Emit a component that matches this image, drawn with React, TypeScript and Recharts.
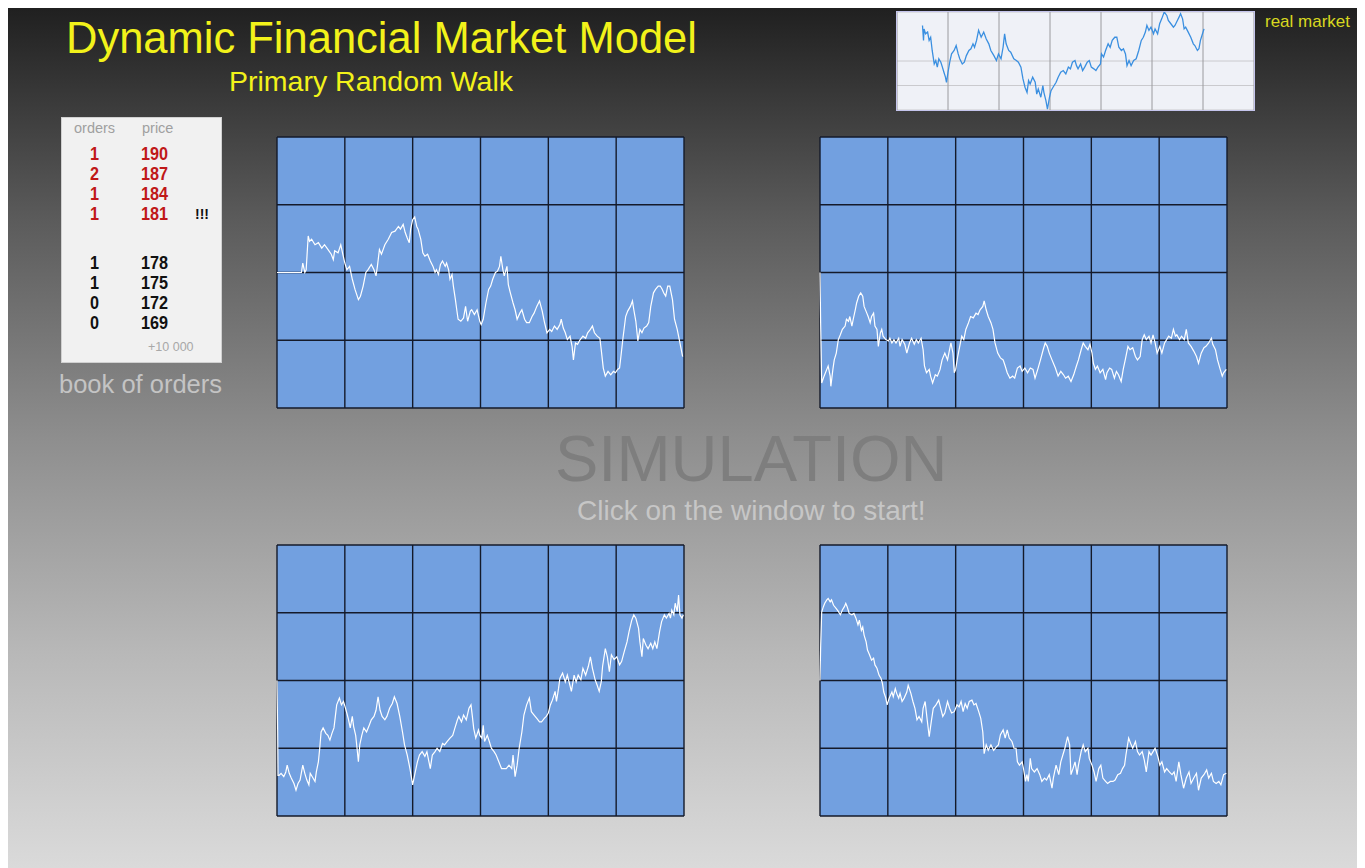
import React from 'react';
import { LineChart, Line, XAxis, YAxis, CartesianGrid } from 'recharts';

// time steps / price levels (grid: 6 x 100 wide, 4 x 100 high)
const tlT = [0, 36, 38, 41, 43, 46, 48, 51, 56, 61, 66, 70, 75, 80, 83, 85, 90, 94, 97, 100, 103, 107, 111, 115, 120, 123, 127, 131, 134, 139, 143, 146, 148, 151, 154, 159, 164, 169, 174, 179, 182, 186, 189, 192, 195, 197, 200, 203, 206, 208, 212, 215, 218, 222, 226, 230, 233, 235, 238, 241, 244, 248, 250, 253, 255, 258, 260, 263, 265, 267, 271, 275, 278, 281, 285, 287, 291, 295, 299, 301, 304, 308, 312, 315, 318, 322, 325, 328, 330, 333, 335, 339, 341, 344, 348, 351, 354, 358, 361, 365, 368, 372, 376, 379, 383, 387, 391, 394, 398, 402, 405, 409, 413, 417, 419, 422, 425, 428, 432, 435, 437, 440, 443, 447, 451, 455, 458, 462, 465, 468, 472, 476, 478, 481, 484, 488, 492, 496, 499, 502, 505, 507, 510, 514, 517, 521, 524, 526, 529, 532, 535, 538, 541, 545, 548, 551, 555, 558, 562, 565, 568, 570, 573, 576, 579, 583, 586, 590, 594, 598];
const tlV = [200, 200, 214, 200, 204, 254, 246, 249, 241, 244, 236, 241, 234, 227, 219, 232, 229, 241, 227, 214, 204, 209, 190, 175, 160, 165, 180, 200, 204, 212, 204, 195, 209, 234, 227, 241, 249, 259, 261, 268, 264, 271, 259, 251, 244, 264, 278, 282, 268, 264, 249, 229, 224, 227, 217, 209, 200, 204, 197, 212, 217, 209, 214, 204, 190, 197, 180, 160, 145, 131, 128, 133, 150, 128, 143, 145, 138, 145, 128, 123, 131, 155, 175, 180, 190, 200, 202, 209, 224, 204, 195, 209, 182, 170, 155, 145, 131, 140, 145, 131, 126, 126, 135, 140, 150, 158, 143, 128, 111, 116, 113, 121, 116, 123, 131, 118, 111, 101, 106, 91, 71, 96, 94, 101, 106, 103, 111, 116, 121, 111, 106, 103, 86, 59, 47, 54, 49, 54, 52, 57, 59, 76, 103, 135, 143, 150, 158, 145, 128, 99, 116, 111, 118, 121, 126, 150, 170, 175, 180, 180, 175, 170, 165, 180, 180, 160, 131, 116, 96, 76];

const trT = [0, 1, 2.5, 6, 10, 12, 15, 16, 19, 21, 24, 27, 30, 33, 37, 39, 42, 44, 47, 49, 52, 54, 57, 60, 63, 65, 69, 71, 74, 76, 79, 81, 84, 86, 89, 91, 93, 97, 101, 103, 106, 109, 112, 116, 118, 121, 125, 128, 132, 135, 139, 142, 145, 149, 152, 154, 157, 161, 163, 166, 170, 173, 177, 180, 184, 188, 191, 193, 196, 198, 200, 203, 207, 209, 212, 215, 219, 222, 226, 230, 233, 236, 240, 242, 245, 248, 252, 255, 258, 262, 266, 270, 273, 276, 280, 284, 287, 291, 295, 298, 302, 306, 310, 314, 317, 321, 325, 329, 332, 335, 338, 342, 347, 351, 355, 359, 362, 366, 370, 374, 378, 381, 385, 388, 391, 395, 398, 401, 403, 406, 409, 413, 417, 421, 423, 427, 430, 434, 437, 440, 444, 447, 450, 454, 457, 461, 465, 468, 472, 475, 478, 481, 485, 488, 491, 494, 497, 501, 504, 508, 511, 514, 518, 521, 524, 526, 530, 533, 537, 540, 543, 547, 551, 555, 558, 562, 566, 569, 573, 577, 579, 583, 586, 590, 593, 595, 599];
const trV = [200, 121, 37, 47, 57, 62, 47, 32, 57, 71, 81, 101, 108, 116, 121, 131, 128, 135, 121, 131, 145, 155, 165, 170, 165, 150, 140, 135, 126, 135, 140, 121, 116, 91, 111, 116, 106, 101, 99, 103, 96, 101, 96, 103, 91, 101, 94, 81, 96, 103, 94, 101, 96, 103, 86, 62, 52, 57, 47, 37, 49, 47, 57, 71, 81, 71, 86, 96, 81, 52, 57, 76, 96, 106, 101, 116, 126, 135, 133, 140, 138, 145, 150, 158, 145, 135, 126, 116, 96, 81, 74, 71, 62, 52, 44, 47, 44, 59, 62, 54, 59, 52, 59, 57, 44, 57, 71, 86, 96, 91, 81, 71, 59, 47, 54, 49, 44, 47, 39, 49, 62, 71, 86, 96, 91, 86, 94, 81, 66, 57, 62, 52, 57, 42, 52, 59, 57, 44, 54, 49, 39, 57, 71, 91, 86, 89, 76, 71, 76, 101, 108, 101, 106, 96, 108, 96, 81, 91, 81, 96, 101, 106, 103, 116, 106, 108, 101, 106, 101, 116, 96, 91, 84, 76, 66, 81, 89, 91, 96, 103, 94, 86, 71, 57, 47, 52, 57];

const blT = [0, 1, 1.5, 3, 6, 10, 13, 15, 18, 21, 25, 28, 31, 34, 38, 41, 44, 47, 49, 52, 56, 58, 61, 63, 65, 68, 72, 75, 78, 81, 84, 86, 88, 92, 95, 98, 101, 105, 108, 111, 113, 116, 118, 120, 122, 125, 128, 132, 136, 139, 143, 146, 149, 152, 155, 159, 162, 166, 170, 173, 177, 181, 185, 188, 192, 196, 200, 203, 207, 210, 214, 218, 221, 224, 226, 229, 233, 236, 240, 244, 247, 251, 255, 259, 262, 266, 268, 272, 275, 279, 283, 286, 288, 290, 293, 297, 299, 302, 304, 306, 310, 313, 316, 320, 323, 327, 331, 334, 338, 342, 346, 348, 351, 354, 357, 361, 364, 368, 372, 375, 379, 383, 387, 390, 394, 397, 400, 403, 406, 410, 412, 415, 417, 421, 425, 428, 431, 434, 438, 441, 444, 448, 451, 455, 459, 462, 465, 469, 472, 475, 478, 480, 484, 487, 490, 493, 497, 501, 505, 508, 512, 516, 519, 523, 526, 529, 533, 535, 538, 540, 544, 547, 551, 554, 557, 560, 564, 567, 571, 574, 578, 580, 582, 585, 587, 590, 592, 594, 597, 599];
const blV = [200, 124, 60, 60, 63, 58, 65, 75, 63, 56, 48, 38, 48, 53, 75, 63, 53, 46, 63, 58, 51, 65, 80, 100, 124, 130, 122, 119, 112, 122, 130, 147, 164, 174, 164, 169, 159, 144, 130, 147, 132, 119, 100, 80, 105, 119, 130, 124, 134, 142, 147, 156, 176, 156, 147, 142, 147, 159, 166, 176, 166, 147, 124, 105, 90, 70, 46, 61, 80, 90, 95, 88, 95, 80, 70, 90, 95, 100, 95, 107, 105, 110, 115, 119, 129, 142, 147, 139, 149, 142, 159, 164, 147, 129, 115, 127, 119, 115, 134, 110, 119, 110, 100, 95, 90, 80, 70, 70, 70, 75, 70, 90, 58, 75, 100, 124, 149, 164, 174, 154, 149, 144, 139, 139, 144, 147, 152, 164, 171, 184, 169, 188, 203, 211, 198, 208, 196, 184, 208, 198, 208, 201, 218, 208, 221, 235, 218, 201, 193, 184, 198, 221, 247, 235, 213, 238, 231, 235, 223, 228, 243, 257, 272, 289, 297, 292, 277, 257, 235, 262, 252, 247, 255, 247, 257, 247, 272, 287, 297, 292, 299, 292, 304, 297, 314, 302, 326, 297, 292, 297];

const brT = [0, 1, 2.5, 5, 7, 10, 12, 15, 17, 20, 24, 27, 30, 33, 36, 38, 40, 43, 47, 50, 53, 56, 58, 61, 63, 65, 68, 70, 73, 76, 79, 81, 84, 87, 90, 92, 94, 97, 99, 102, 106, 108, 111, 113, 116, 118, 121, 124, 128, 130, 134, 137, 140, 143, 146, 150, 152, 155, 158, 161, 164, 167, 171, 175, 178, 181, 184, 188, 191, 194, 198, 202, 205, 208, 211, 214, 217, 220, 224, 227, 230, 234, 237, 240, 242, 245, 248, 252, 256, 260, 263, 266, 270, 273, 276, 279, 283, 286, 289, 291, 294, 298, 300, 303, 305, 307, 310, 312, 316, 320, 324, 327, 331, 334, 338, 342, 344, 348, 352, 355, 358, 361, 365, 368, 370, 373, 376, 379, 381, 385, 388, 391, 395, 397, 401, 404, 407, 411, 414, 417, 421, 424, 428, 432, 435, 439, 443, 446, 449, 451, 455, 458, 461, 465, 468, 471, 475, 478, 481, 485, 488, 491, 494, 498, 501, 504, 508, 511, 515, 519, 522, 525, 529, 532, 536, 540, 544, 547, 551, 555, 558, 562, 566, 570, 573, 577, 580, 584, 588, 591, 595, 599];
const brV = [200, 252, 301, 309, 314, 319, 321, 316, 319, 311, 306, 302, 297, 304, 309, 314, 309, 299, 297, 299, 292, 282, 289, 274, 279, 267, 257, 245, 238, 230, 233, 223, 218, 208, 203, 196, 183, 174, 164, 174, 183, 176, 188, 181, 174, 181, 169, 174, 183, 193, 181, 169, 159, 142, 147, 139, 159, 169, 142, 117, 139, 159, 164, 171, 159, 147, 152, 169, 159, 152, 154, 164, 161, 169, 154, 166, 159, 169, 171, 164, 166, 154, 144, 124, 92, 105, 97, 105, 97, 102, 105, 120, 127, 115, 127, 115, 110, 100, 100, 80, 75, 80, 70, 51, 61, 51, 85, 70, 65, 70, 61, 51, 56, 53, 61, 41, 56, 75, 61, 80, 90, 100, 117, 105, 61, 70, 80, 61, 75, 95, 105, 95, 100, 85, 75, 65, 51, 70, 75, 56, 51, 48, 51, 51, 53, 61, 63, 70, 75, 90, 115, 107, 100, 110, 95, 90, 95, 83, 65, 95, 90, 95, 100, 88, 75, 80, 65, 70, 65, 61, 65, 51, 80, 61, 41, 56, 65, 48, 56, 63, 38, 56, 61, 68, 56, 63, 51, 48, 51, 46, 61, 63];

// "real market" thumbnail (7 x 100 wide, 4 x 100 high)
const rmT = [50, 52, 53, 56, 60, 63, 66, 69, 73, 76, 79, 82, 86, 89, 92, 95, 97, 100, 104, 107, 112, 116, 120, 123, 128, 132, 136, 141, 145, 149, 152, 156, 160, 165, 170, 175, 180, 184, 190, 195, 199, 204, 208, 211, 214, 219, 223, 229, 234, 238, 243, 247, 251, 255, 258, 261, 266, 271, 274, 277, 282, 286, 288, 292, 295, 299, 302, 306, 312, 316, 321, 326, 331, 336, 340, 344, 349, 352, 355, 360, 364, 368, 373, 377, 381, 386, 390, 394, 399, 401, 405, 409, 414, 418, 422, 427, 431, 435, 440, 444, 448, 451, 455, 459, 464, 469, 474, 479, 483, 487, 490, 494, 498, 503, 506, 511, 515, 519, 524, 529, 532, 537, 542, 545, 550, 553, 556, 560, 563, 566, 571, 576, 581, 584, 589, 592, 595, 599, 602];
const rmV = [345, 284, 331, 311, 318, 284, 297, 243, 188, 202, 175, 209, 195, 175, 154, 134, 113, 154, 202, 229, 243, 263, 229, 209, 188, 195, 222, 243, 250, 270, 256, 284, 325, 297, 318, 290, 270, 243, 222, 202, 229, 209, 256, 311, 270, 243, 236, 209, 202, 195, 175, 127, 93, 72, 120, 106, 134, 113, 65, 86, 52, 100, 72, 38, 4, 52, 79, 93, 113, 134, 154, 161, 147, 175, 168, 195, 202, 181, 168, 188, 161, 175, 195, 202, 175, 168, 161, 175, 188, 229, 216, 243, 270, 256, 284, 297, 297, 256, 243, 250, 229, 181, 202, 181, 202, 209, 243, 284, 297, 318, 345, 325, 338, 311, 331, 311, 352, 372, 400, 386, 366, 352, 338, 345, 366, 379, 393, 372, 331, 338, 318, 297, 270, 263, 243, 250, 284, 311, 331];

const panelTicksX = [0, 100, 200, 300, 400, 500, 600];
const panelTicksY = [0, 100, 200, 300, 400];
const thumbTicksX = [0, 100, 200, 300, 400, 500, 600, 700];

const askOrders = ['1', '2', '1', '1'];
const askPrices = ['190', '187', '184', '181'];
const bidOrders = ['1', '1', '0', '0'];
const bidPrices = ['178', '175', '172', '169'];

const SANS = '"Liberation Sans", Arial, sans-serif';

const zip = (t: number[], v: number[]) => t.map((x, i) => ({ t: x, v: v[i] }));

const Panel = ({ left, top, t, v }: { left: number; top: number; t: number[]; v: number[] }) => (
  <div style={{ position: 'absolute', left, top }}>
    <LineChart width={409} height={273} data={zip(t, v)} margin={{ top: 1, right: 1, bottom: 1, left: 1 }}>
      <CartesianGrid stroke="#141a2a" strokeWidth={1.4} fill="#72a0e0" fillOpacity={1} />
      <XAxis dataKey="t" type="number" domain={[0, 600]} ticks={panelTicksX} hide />
      <YAxis type="number" domain={[0, 400]} ticks={panelTicksY} hide />
      <Line dataKey="v" type="linear" stroke="#ffffff" strokeWidth={1.2} dot={false} isAnimationActive={false} />
    </LineChart>
  </div>
);

const numStyle = (color: string): React.CSSProperties => ({
  position: 'absolute',
  fontSize: 18,
  fontWeight: 700,
  color,
  transform: 'scaleX(0.9)',
  transformOrigin: 'left',
});

const App = () => {
  return (
    <div
      style={{
        position: 'relative',
        width: 1357,
        height: 860,
        overflow: 'hidden',
        background: 'linear-gradient(to bottom, #202020 0%, #5c5c5c 25%, #8e8e8e 50%, #b8b8b8 75%, #dadada 100%)',
        fontFamily: SANS,
      }}
    >
      <div style={{ position: 'absolute', left: 58, top: 6, fontSize: 43.5, color: '#f2f21a', whiteSpace: 'nowrap' }}>
        Dynamic Financial Market Model
      </div>
      <div style={{ position: 'absolute', left: 221, top: 57, fontSize: 28.5, color: '#f2f21a', whiteSpace: 'nowrap' }}>
        Primary Random Walk
      </div>
      <div style={{ position: 'absolute', left: 1257, top: 4, fontSize: 17, color: '#d8d820', whiteSpace: 'nowrap' }}>
        real market
      </div>

      {/* real market thumbnail */}
      <div style={{ position: 'absolute', left: 888, top: 3, width: 357, height: 98, border: '1px solid #c4c4ec', background: '#eff1f7' }}>
        <LineChart width={357} height={98} data={zip(rmT, rmV)} margin={{ top: 0, right: 0, bottom: 0, left: 0 }}>
          <CartesianGrid stroke="#cacace" vertical={false} />
          <CartesianGrid stroke="#9a9a9e" horizontal={false} />
          <XAxis dataKey="t" type="number" domain={[0, 700]} ticks={thumbTicksX} hide />
          <YAxis type="number" domain={[0, 400]} ticks={panelTicksY} allowDataOverflow hide />
          <Line dataKey="v" type="linear" stroke="#3a8fe0" strokeWidth={1.3} dot={false} isAnimationActive={false} />
        </LineChart>
      </div>

      {/* book of orders */}
      <div style={{ position: 'absolute', left: 53, top: 109, width: 159, height: 244, background: '#f1f1f1', border: '1px solid #d0d0d0' }}>
        <div style={{ position: 'absolute', left: 12, top: 2, fontSize: 14.5, color: '#a0a0a0' }}>orders</div>
        <div style={{ position: 'absolute', left: 80, top: 2, fontSize: 14.5, color: '#a0a0a0' }}>price</div>
        {askOrders.map((o, i) => (
          <React.Fragment key={'a' + i}>
            <div style={{ ...numStyle('#c01818'), left: 28, top: 26 + i * 20 }}>{o}</div>
            <div style={{ ...numStyle('#c01818'), left: 79, top: 26 + i * 20 }}>{askPrices[i]}</div>
          </React.Fragment>
        ))}
        <div style={{ position: 'absolute', left: 133, top: 88, fontSize: 14, fontWeight: 700, color: '#111' }}>!!!</div>
        {bidOrders.map((o, i) => (
          <React.Fragment key={'b' + i}>
            <div style={{ ...numStyle('#111111'), left: 28, top: 135 + i * 20 }}>{o}</div>
            <div style={{ ...numStyle('#111111'), left: 79, top: 135 + i * 20 }}>{bidPrices[i]}</div>
          </React.Fragment>
        ))}
        <div style={{ position: 'absolute', left: 86, top: 222, fontSize: 12.5, color: '#a8a8a8' }}>+10 000</div>
      </div>
      <div style={{ position: 'absolute', left: 51, top: 362, fontSize: 25.5, color: '#c4c4c4', whiteSpace: 'nowrap' }}>
        book of orders
      </div>

      <Panel left={268} top={128} t={tlT} v={tlV} />
      <Panel left={811} top={128} t={trT} v={trV} />
      <Panel left={268} top={536} t={blT} v={blV} />
      <Panel left={811} top={536} t={brT} v={brV} />

      <div style={{ position: 'absolute', left: 547, top: 413, fontSize: 65, color: '#7e7e7e', whiteSpace: 'nowrap' }}>
        SIMULATION
      </div>
      <div style={{ position: 'absolute', left: 569, top: 487, fontSize: 28, color: '#c6c6c6', whiteSpace: 'nowrap' }}>
        Click on the window to start!
      </div>
    </div>
  );
};

export default App;
